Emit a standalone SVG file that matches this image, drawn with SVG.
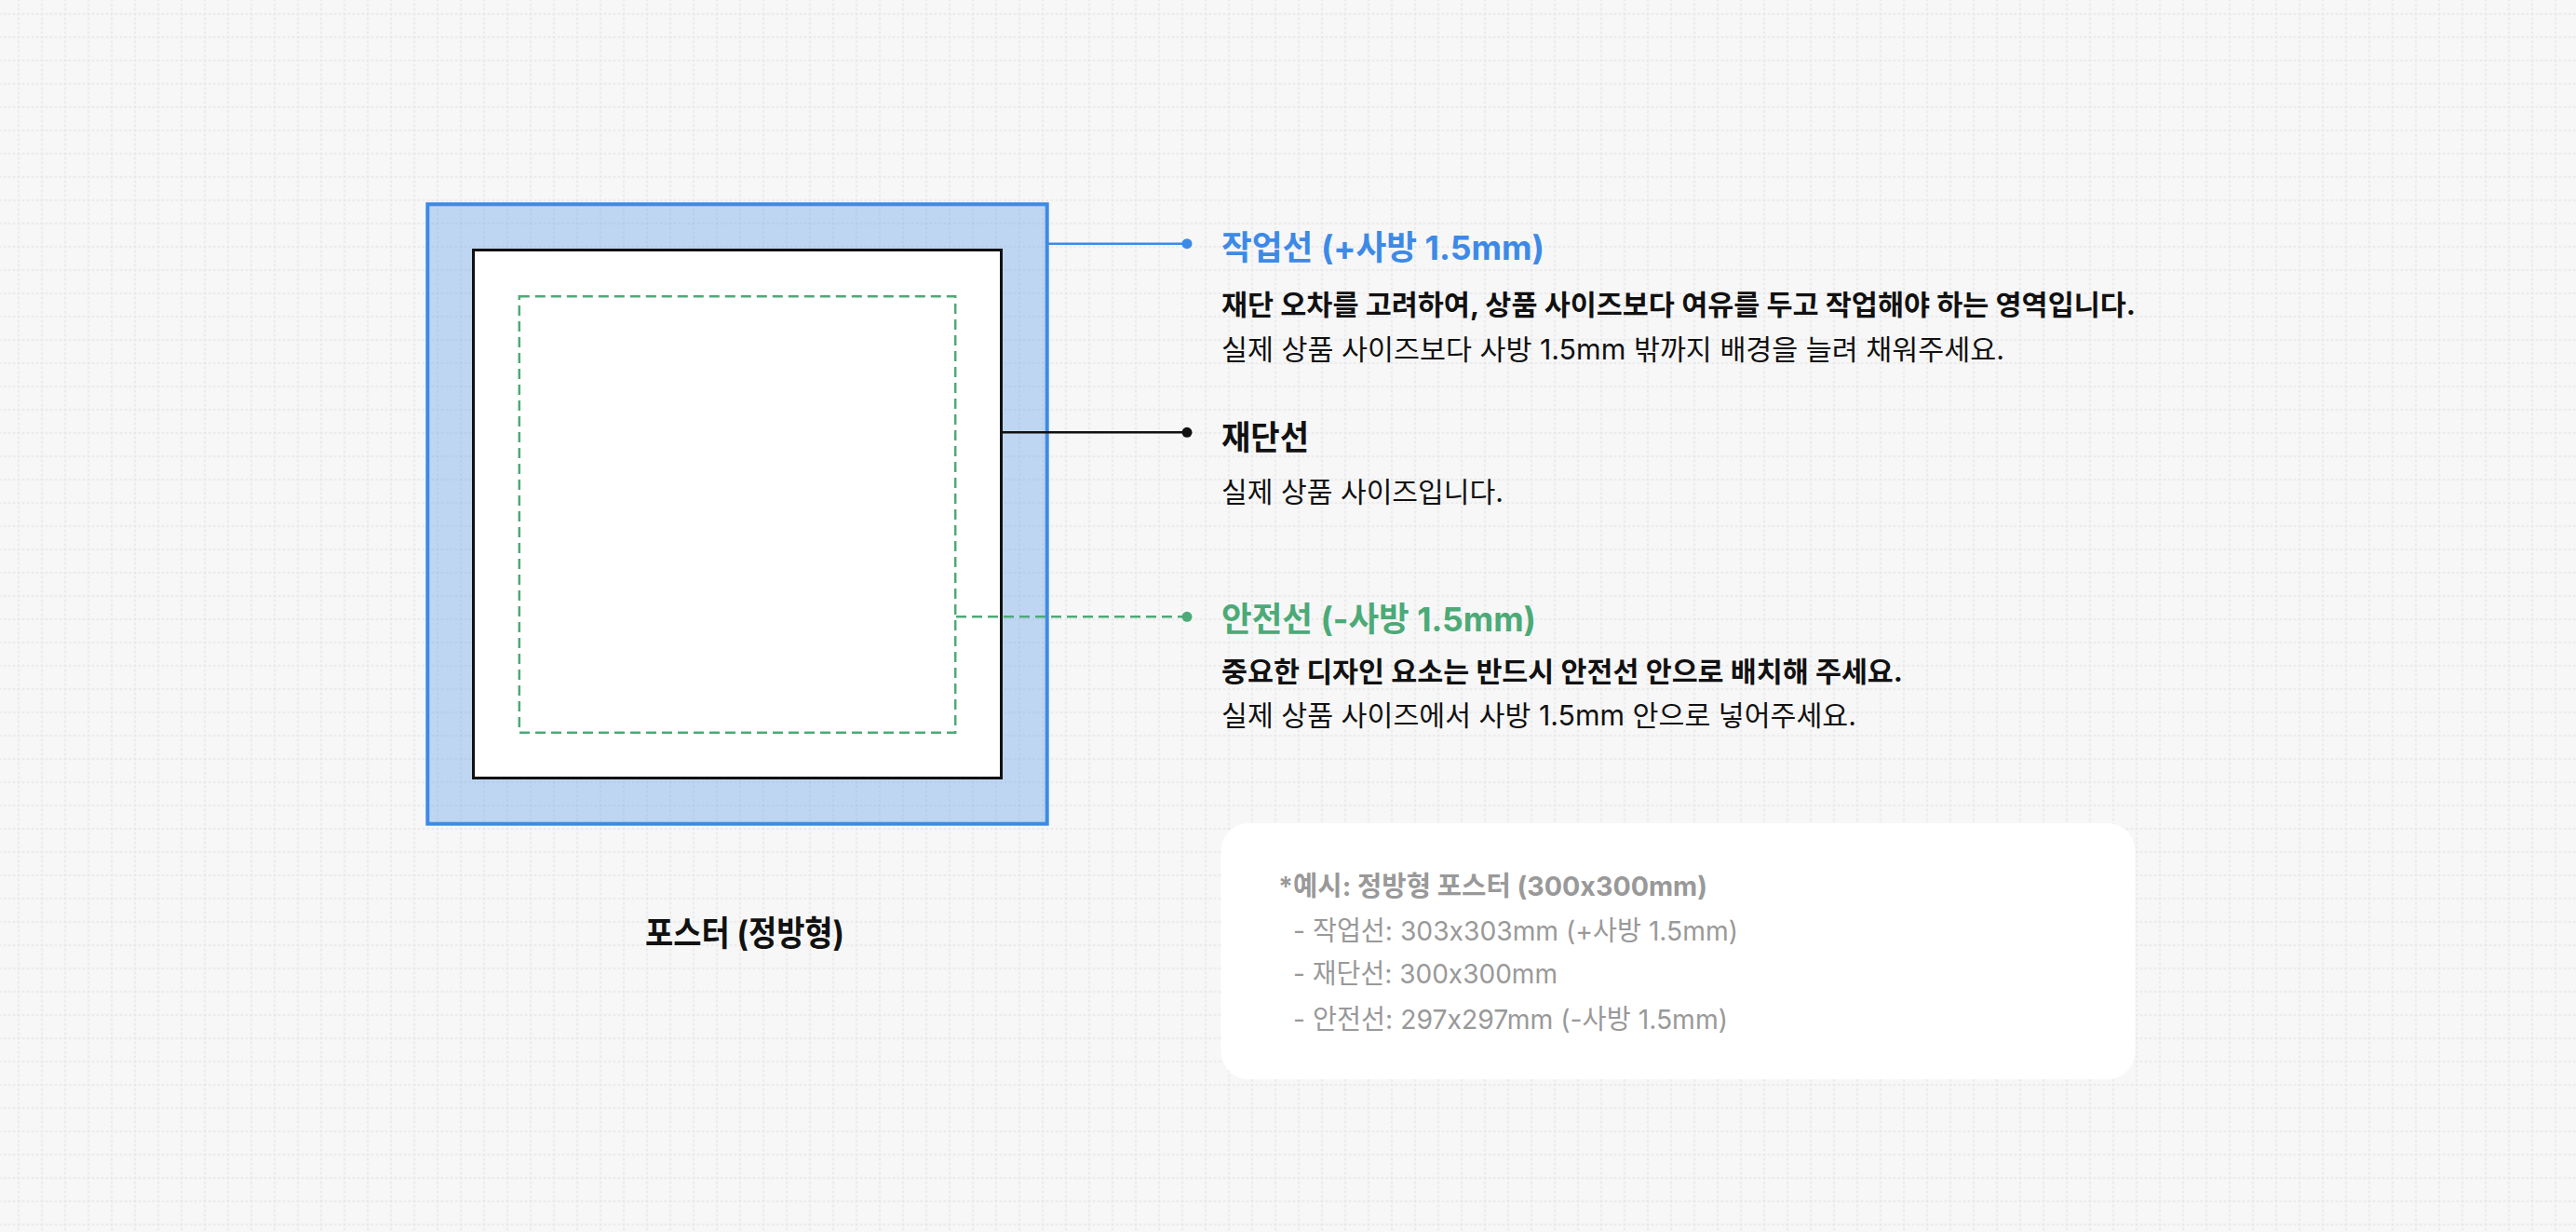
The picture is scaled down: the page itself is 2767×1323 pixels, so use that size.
<svg xmlns="http://www.w3.org/2000/svg" width="2767" height="1323" viewBox="0 0 2767 1323">
<style>
.t{font-family:"Inter","Noto Sans CJK KR","Noto Sans",sans-serif}
.ttl{font-size:36px;font-weight:700}
.bd{font-size:30px;font-weight:700;fill:#111111}
.rg{font-size:30px;font-weight:400;fill:#111111}
.bx{font-size:29px;fill:#999999}
.gl{stroke:#e5e5e5;stroke-width:1.5;stroke-dasharray:3 2;fill:none}
</style>
<defs>
<pattern id="grid" patternUnits="userSpaceOnUse" x="7.5" y="2.5" width="25" height="25">
<line class="gl" x1="12.5" y1="1" x2="12.5" y2="26"/>
<line class="gl" x1="1" y1="12.5" x2="26" y2="12.5"/>
</pattern>
<marker id="dotB" markerUnits="userSpaceOnUse" markerWidth="14" markerHeight="14" refX="7" refY="7" viewBox="0 0 14 14"><circle cx="7" cy="7" r="5.5" fill="#3d8ae6"/></marker>
<marker id="dotK" markerUnits="userSpaceOnUse" markerWidth="14" markerHeight="14" refX="7" refY="7" viewBox="0 0 14 14"><circle cx="7" cy="7" r="5.5" fill="#111111"/></marker>
<marker id="dotG" markerUnits="userSpaceOnUse" markerWidth="14" markerHeight="14" refX="7" refY="7" viewBox="0 0 14 14"><circle cx="7" cy="7" r="5.5" fill="#4caa77"/></marker>
</defs>
<rect x="0" y="0" width="2767" height="1323" fill="#f7f7f7"/>
<rect x="0" y="0" width="2767" height="1323" fill="url(#grid)"/>

<g id="bleed">
<rect x="459.3" y="219.3" width="665.4" height="665.4" fill="#3d8ae6" fill-opacity="0.3" stroke="#3d8ae6" stroke-width="4"/>
</g>
<g id="trim">
<rect x="508.5" y="268.5" width="567" height="567" fill="#ffffff" stroke="#111111" stroke-width="3"/>
</g>
<g id="safe">
<rect x="557.8" y="318.3" width="468.4" height="468.4" fill="none" stroke="#4caa77" stroke-width="2.5" stroke-dasharray="11 6"/>
</g>

<g id="connectors" fill="none">
<line x1="1126" y1="261.7" x2="1275" y2="261.7" stroke="#3d8ae6" stroke-width="2.5" marker-end="url(#dotB)"/>
<line x1="1077" y1="464.3" x2="1275" y2="464.3" stroke="#111111" stroke-width="2.5" marker-end="url(#dotK)"/>
<line x1="1027" y1="662.3" x2="1275" y2="662.3" stroke="#4caa77" stroke-width="2.5" stroke-dasharray="11 6" marker-end="url(#dotG)"/>
</g>

<g id="label-bleed">
<text class="t ttl" x="1312" y="279" fill="#3d8ae6" textLength="347" lengthAdjust="spacingAndGlyphs">작업선 (+사방 1.5mm)</text>
<text class="t bd" x="1312" y="338" textLength="982" lengthAdjust="spacingAndGlyphs">재단 오차를 고려하여, 상품 사이즈보다 여유를 두고 작업해야 하는 영역입니다.</text>
<text class="t rg" x="1312" y="385.5" textLength="841" lengthAdjust="spacingAndGlyphs">실제 상품 사이즈보다 사방 1.5mm 밖까지 배경을 늘려 채워주세요.</text>
</g>
<g id="label-trim">
<text class="t ttl" x="1312" y="482.5" fill="#111111" textLength="94" lengthAdjust="spacingAndGlyphs">재단선</text>
<text class="t rg" x="1312" y="539" textLength="303" lengthAdjust="spacingAndGlyphs">실제 상품 사이즈입니다.</text>
</g>
<g id="label-safe">
<text class="t ttl" x="1312" y="677.5" fill="#4caa77" textLength="338" lengthAdjust="spacingAndGlyphs">안전선 (-사방 1.5mm)</text>
<text class="t bd" x="1312" y="731.5" textLength="732" lengthAdjust="spacingAndGlyphs">중요한 디자인 요소는 반드시 안전선 안으로 배치해 주세요.</text>
<text class="t rg" x="1312" y="779" textLength="682" lengthAdjust="spacingAndGlyphs">실제 상품 사이즈에서 사방 1.5mm 안으로 넣어주세요.</text>
</g>
<g id="poster-label">
<text class="t" x="693" y="1015.5" font-size="37" font-weight="700" fill="#111111" textLength="214" lengthAdjust="spacingAndGlyphs">포스터 (정방형)</text>
</g>
<g id="example-box">
<rect x="1311.5" y="884" width="982" height="275" rx="30" fill="#ffffff"/>
<text class="t bx" x="1373" y="962" font-weight="700" fill="#8f8f8f" textLength="461" lengthAdjust="spacingAndGlyphs">*예시: 정방형 포스터 (300x300mm)</text>
<text class="t bx" x="1389" y="1010" textLength="478" lengthAdjust="spacingAndGlyphs">- 작업선: 303x303mm (+사방 1.5mm)</text>
<text class="t bx" x="1389" y="1056" textLength="284" lengthAdjust="spacingAndGlyphs">- 재단선: 300x300mm</text>
<text class="t bx" x="1389" y="1105" textLength="467" lengthAdjust="spacingAndGlyphs">- 안전선: 297x297mm (-사방 1.5mm)</text>
</g>
</svg>
